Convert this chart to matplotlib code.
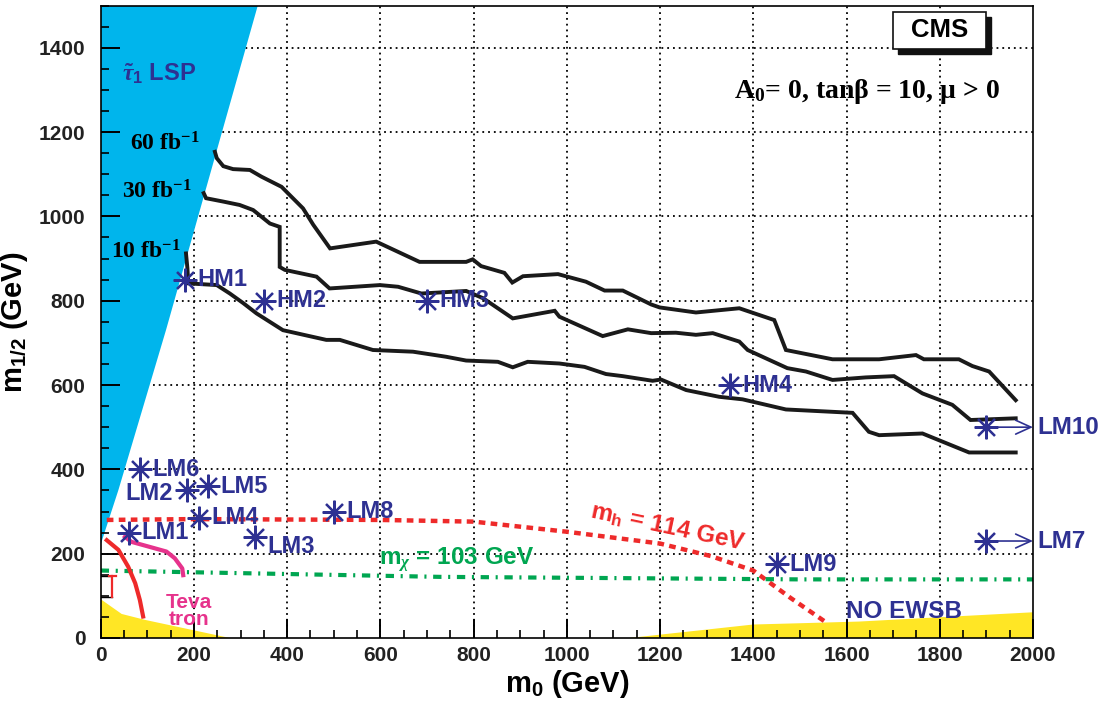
import matplotlib
matplotlib.use('Agg')
import matplotlib.pyplot as plt
from matplotlib.patches import Rectangle, Polygon
from matplotlib.ticker import MultipleLocator

plt.rcParams['mathtext.fontset'] = 'custom'
plt.rcParams['mathtext.rm'] = 'Liberation Serif:bold'
plt.rcParams['mathtext.it'] = 'Liberation Serif:italic'
plt.rcParams['mathtext.bf'] = 'Liberation Serif:bold'
plt.rcParams['mathtext.sf'] = 'Liberation Sans:bold'
plt.rcParams['font.family'] = ['Liberation Sans', 'DejaVu Sans']
plt.rcParams['font.weight'] = 'bold'

# ---------------- data ----------------
# 5 sigma discovery contours
c60_m0 = [245, 249, 263, 284, 320, 345, 388, 406, 434, 456, 492, 591, 684, 784, 798, 816, 866, 883, 906, 981,
          1041, 1081, 1120, 1181, 1199, 1277, 1370, 1445, 1470, 1570, 1670, 1749, 1766, 1841, 1870, 1906, 1963]
c60_m12 = [1153, 1138, 1119, 1112, 1110, 1094, 1070, 1050, 1019, 980, 924, 940, 892, 892, 898, 882, 866, 843, 858, 863,
           845, 824, 824, 791, 784, 772, 782, 754, 683, 661, 661, 671, 661, 661, 645, 632, 564]

c30_m0 = [221, 226, 263, 298, 327, 363, 384, 384, 395, 463, 491, 599, 638, 688, 784, 820, 884, 974, 984, 1077,
          1131, 1181, 1234, 1277, 1313, 1370, 1388, 1473, 1513, 1570, 1641, 1702, 1763, 1827, 1866, 1963]
c30_m12 = [1055, 1043, 1035, 1027, 1015, 983, 975, 880, 873, 857, 829, 837, 833, 817, 823, 806, 758, 776, 762, 716,
           732, 723, 724, 719, 723, 703, 683, 640, 632, 612, 618, 621, 580, 553, 517, 521]

c10_m0 = [183, 186, 188, 249, 277, 306, 334, 391, 484, 513, 584, 670, 741, 784, 852, 884, 916, 984, 1038, 1084,
          1120, 1184, 1202, 1256, 1327, 1377, 1470, 1613, 1648, 1670, 1763, 1863, 1963]
c10_m12 = [912, 877, 841, 837, 817, 794, 770, 730, 707, 707, 683, 679, 667, 658, 655, 642, 655, 651, 643, 626,
           621, 610, 613, 588, 572, 566, 542, 534, 489, 481, 485, 440, 440]

# excluded regions
lsp_m0 = [0, 0, 38, 140, 337]
lsp_m12 = [1500, 222, 351, 730, 1500]
ewsb_left_m0 = [0, 0, 45, 95, 277]
ewsb_left_m12 = [0, 92, 57, 43, 0]
ewsb_right_m0 = [1134, 1400, 1500, 1627, 2000, 2000]
ewsb_right_m12 = [0, 32, 35, 39, 61, 0]

# iso-mass and exclusion lines
mh_m0 = [13, 200, 400, 600, 800, 1000, 1200, 1310, 1400, 1480, 1555]
mh_m12 = [280, 282, 281, 280, 276, 252, 224, 194, 160, 95, 38]
mchi_m0 = [0, 727, 1500, 2000]
mchi_m12 = [160, 145, 139, 139]
lep_m0 = [13, 38, 59, 74, 84, 91]
lep_m12 = [232, 209, 169, 130, 90, 51]
teva_m0 = [52, 66, 102, 141, 159, 175, 177]
teva_m12 = [240, 228, 217, 205, 189, 165, 149]

# benchmark points
bench_names = ['HM1', 'HM2', 'HM3', 'HM4', 'LM1', 'LM2', 'LM3', 'LM4', 'LM5', 'LM6', 'LM8', 'LM9']
bench_m0 = [180, 350, 700, 1350, 60, 185, 330, 210, 230, 85, 500, 1450]
bench_m12 = [850, 800, 800, 600, 250, 350, 240, 285, 360, 400, 300, 175]
# off-scale points (m0 = 3000 GeV), drawn near the right edge
off_names = ['LM10', 'LM7']
off_m0 = [1900, 1900]
off_m12 = [500, 230]

xticks = list(range(0, 2001, 200))
yticks = list(range(0, 1401, 200))

# ---------------- styles ----------------
BLUE = '#2E3192'
CYAN = '#00B5EC'
YELLOW = '#FFE625'
RED = '#EE2A2A'
MAGENTA = '#E6338C'
GREEN = '#00A651'

fig = plt.figure(figsize=(11.03, 7.07), dpi=100)
ax = fig.add_axes([0.0913, 0.0976, 0.8452, 0.8946])
ax.set_xlim(0, 2000)
ax.set_ylim(0, 1500)

# grid (dotted)
for x in xticks[1:-1]:
    ax.axvline(x, color='k', lw=1.3, ls=(0, (1, 2.2)), zorder=0.5)
for y in yticks[1:]:
    ax.axhline(y, color='k', lw=1.3, ls=(0, (1, 2.2)), zorder=0.5)

ax.add_patch(Polygon(list(zip(lsp_m0, lsp_m12)), closed=True, fc=CYAN, ec='none', zorder=1))
ax.add_patch(Polygon(list(zip(ewsb_left_m0, ewsb_left_m12)), closed=True, fc=YELLOW, ec='none', zorder=1))
ax.add_patch(Polygon(list(zip(ewsb_right_m0, ewsb_right_m12)), closed=True, fc=YELLOW, ec='none', zorder=1))

for xs, ys in [(c60_m0, c60_m12), (c30_m0, c30_m12), (c10_m0, c10_m12)]:
    ax.plot(xs, ys, color='#1a1a1a', lw=2.8, solid_joinstyle='miter', zorder=3)

ax.plot(mh_m0, mh_m12, color=RED, lw=3.2, ls=(0, (1.5, 1.2)), zorder=3)
ax.plot(mchi_m0, mchi_m12, color=GREEN, lw=3.0, ls=(0, (2.0, 1.6, 0.5, 1.6)), zorder=3)
ax.plot(lep_m0, lep_m12, color=RED, lw=3.0, zorder=3)
ax.plot(teva_m0, teva_m12, color=MAGENTA, lw=3.0, zorder=3)

# small LEP box near the origin
ax.plot([0, 19], [147, 147], color='k', lw=1.0, zorder=3)
ax.plot([0, 24], [97, 97], color='k', lw=1.0, zorder=3)
ax.plot([24, 24], [97, 147], color=RED, lw=1.6, zorder=3)
ax.plot([18, 32], [147, 147], color=RED, lw=1.6, zorder=3)

# benchmark points
ax.plot(bench_m0, bench_m12, ls='none', marker=(8, 2, 0), ms=17, mew=1.6, color=BLUE, zorder=6)
ax.plot(off_m0, off_m12, ls='none', marker=(8, 2, 0), ms=17, mew=1.6, color=BLUE, zorder=6)

label_offsets = {'LM2': (-10, -2, 'right'), 'LM3': (9.5, -7, 'left')}
for name, x, y in zip(bench_names, bench_m0, bench_m12):
    dx, dy, ha = label_offsets.get(name, (9, 0, 'left'))
    ax.annotate(name, (x, y), xytext=(dx, dy), textcoords='offset points', ha=ha, va='center',
                fontsize=17, color=BLUE, fontweight='bold', zorder=7)

for name, x, y in zip(off_names, off_m0, off_m12):
    ax.annotate('', xy=(2000, y), xytext=(x, y),
                arrowprops=dict(arrowstyle='->,head_length=1.1,head_width=0.5', color=BLUE, lw=1.2,
                                shrinkA=0, shrinkB=0, mutation_scale=10), zorder=6)
    ax.annotate(name, (2000, y), xytext=(3, 0), textcoords='offset points', ha='left', va='center',
                fontsize=17.5, color=BLUE, fontweight='bold', annotation_clip=False)

# annotations
ax.text(45, 1337, r'$\tilde{\tau}_\mathsf{1}$ LSP', fontsize=17, color=BLUE, ha='left', va='center')
serif = ['Liberation Serif', 'DejaVu Serif']
ax.text(63, 1171, r'60 fb$^{-1}$', family=serif, fontsize=17, fontweight='bold', ha='left', va='center')
ax.text(45, 1057, r'30 fb$^{-1}$', family=serif, fontsize=17, fontweight='bold', ha='left', va='center')
ax.text(23, 916, r'10 fb$^{-1}$', family=serif, fontsize=17, fontweight='bold', ha='left', va='center')
ax.text(1359, 1295, r'A$_\mathrm{0}$= 0, tanβ = 10, μ > 0', family=serif, fontsize=20, fontweight='bold',
        ha='left', va='center')
ax.text(1217, 261, r'$\mathsf{m}_\mathsf{h}$ = 114 GeV', fontsize=17.5, color=RED, rotation=-12,
        rotation_mode='anchor', ha='center', va='center', zorder=5)
ax.text(598, 173, r'$\mathsf{m}_\chi$ = 103 GeV', fontsize=17.5, color=GREEN, ha='left', va='baseline', zorder=5)
ax.text(190, 64, 'Teva\ntron', fontsize=15, color=MAGENTA, ha='center', va='center', linespacing=0.85, zorder=5)
ax.text(1599, 62, 'NO EWSB', fontsize=17.5, color=BLUE, ha='left', va='center', zorder=5)

# CMS box with shadow
bx0, by0, bw, bh = 0.8495, 0.9308, 0.1001, 0.0594
ax.add_patch(Rectangle((bx0 + 0.0055, by0 - 0.008), bw, bh, transform=ax.transAxes, fc='#111111', ec='#111111',
                       zorder=10, clip_on=False))
ax.add_patch(Rectangle((bx0, by0), bw, bh, transform=ax.transAxes, fc='white', ec='#111111', lw=1.2,
                       zorder=11, clip_on=False))
ax.text(bx0 + bw / 2, by0 + bh / 2, 'CMS', transform=ax.transAxes, fontsize=18.5, fontweight='bold',
        ha='center', va='center', zorder=12)

# axes
ax.set_xticks(xticks)
ax.set_yticks(yticks)
ax.xaxis.set_minor_locator(MultipleLocator(50))
ax.yaxis.set_minor_locator(MultipleLocator(50))
ax.tick_params(which='major', direction='in', length=14, width=1.4, top=False, right=False, labelsize=15)
ax.tick_params(which='minor', direction='in', length=6, width=1.2, top=False, right=False)
ax.tick_params(axis='x', which='major', pad=6)
ax.tick_params(axis='y', which='major', pad=11)
for lab in ax.get_xticklabels() + ax.get_yticklabels():
    lab.set_fontweight('bold')
    lab.set_color('#222222')
for s in ax.spines.values():
    s.set_linewidth(1.2)
    s.set_zorder(8)

ax.set_xlabel(r'$\mathsf{m}_\mathsf{0}$ (GeV)', fontsize=21, fontweight='bold', labelpad=2)
ax.set_ylabel(r'$\mathsf{m}_\mathsf{1/2}$ (GeV)', fontsize=21, fontweight='bold', labelpad=6)

fig.savefig('out.png', dpi=100)
